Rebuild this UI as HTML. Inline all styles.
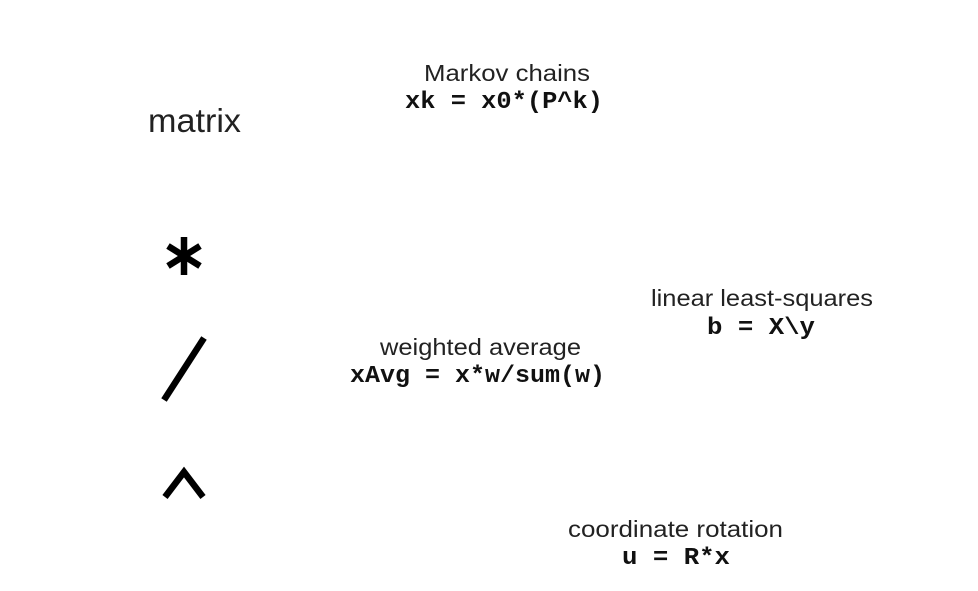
<!DOCTYPE html>
<html><head><meta charset="utf-8"><style>
html,body{margin:0;padding:0;background:#fff;}
svg{display:block}
.s{font-family:"Liberation Sans",sans-serif;fill:#222;font-size:23px}
.c{font-family:"Liberation Mono",monospace;font-weight:bold;fill:#111;font-size:24px}
</style></head><body>
<svg width="978" height="591" viewBox="0 0 978 591" xmlns="http://www.w3.org/2000/svg">
<text class="s" x="148" y="132" style="font-size:33px" textLength="93" lengthAdjust="spacingAndGlyphs">matrix</text>
<text class="s" x="424" y="81" textLength="166" lengthAdjust="spacingAndGlyphs">Markov chains</text>
<text class="c" x="405" y="108" textLength="198" lengthAdjust="spacingAndGlyphs">xk = x0*(P^k)</text>
<text class="s" x="651" y="306" textLength="222" lengthAdjust="spacingAndGlyphs">linear least-squares</text>
<text class="c" x="707" y="334" textLength="108" lengthAdjust="spacingAndGlyphs">b = X\y</text>
<text class="s" x="380" y="355" textLength="201" lengthAdjust="spacingAndGlyphs">weighted average</text>
<text class="c" x="350" y="382" textLength="255" lengthAdjust="spacingAndGlyphs">xAvg = x*w/sum(w)</text>
<text class="s" x="568" y="537" textLength="215" lengthAdjust="spacingAndGlyphs">coordinate rotation</text>
<text class="c" x="622" y="564" textLength="108" lengthAdjust="spacingAndGlyphs">u = R*x</text>
<g stroke="#000" stroke-width="6.5" fill="none">
<line x1="184" y1="237" x2="184" y2="275"/>
<line x1="168" y1="246" x2="200" y2="266"/>
<line x1="168" y1="266" x2="200" y2="246"/>
<line x1="204" y1="338" x2="164" y2="400"/>
<polyline points="165,497 184,472 203,497" stroke-width="6.5"/>
</g>
</svg>
</body></html>
